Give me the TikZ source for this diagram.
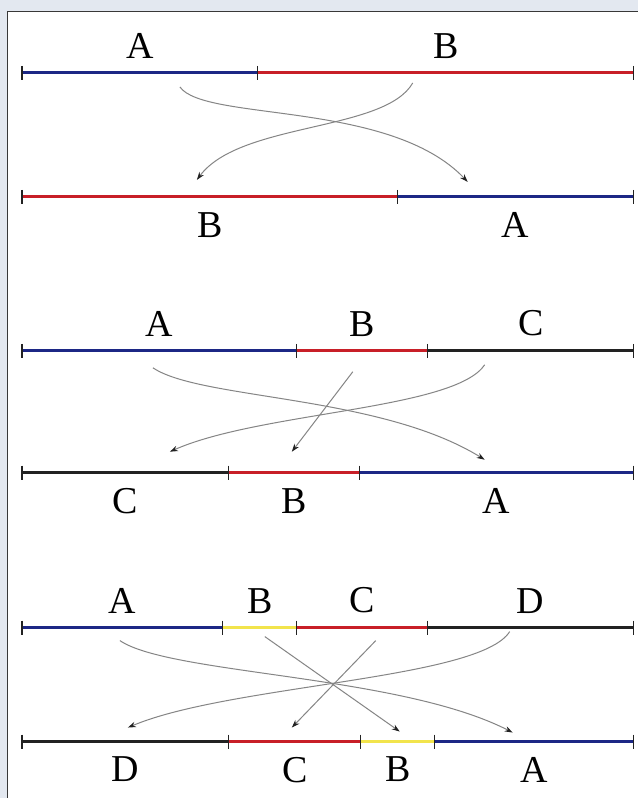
\documentclass[tikz,border=0pt]{standalone}
\usepackage{fontspec}
\setmainfont{Liberation Serif}
\usepackage{xcolor}
\usepackage{tikz}
\usetikzlibrary{arrows.meta}

\definecolor{fondo}{HTML}{E3E8F0}
\definecolor{azul}{HTML}{1C2785}
\definecolor{rojo}{HTML}{C81F28}
\definecolor{amarillo}{HTML}{F2E44C}
\definecolor{negro}{HTML}{222222}
\definecolor{flecha}{HTML}{858585}

\tikzset{
    tramo/.style = {line width=3pt},
    marca/.style = {line width=1.1pt, draw=negro},
    marco/.style = {line width=1pt, draw=negro!90},
    letra/.style = {font=\fontsize{38}{40}\selectfont, inner sep=0pt},
    arriba/.style = {letra, above=13pt},
    abajo/.style = {letra, below=14pt},
    traslado/.style = {draw=flecha, line width=1pt,
        -{Stealth[length=8pt, width=5.5pt, color=negro]}}
}

\begin{document}
\begin{tikzpicture}[x=1pt, y=-1pt]
    % Fondo y marco
    \fill[fondo] (0,0) rectangle (638,798);
    \fill[white] (8,12) rectangle (638,798);
    \draw[marco] (8,798) -- (8,12) -- (638,12);
    \useasboundingbox (0,0) rectangle (638,798);

    % Primer caso: A B -> B A
    \coordinate (p1) at (22,73);
    \coordinate (p2) at (258,73);
    \coordinate (p3) at (634,73);
    \coordinate (q1) at (22,197);
    \coordinate (q2) at (398,197);
    \coordinate (q3) at (634,197);
    \draw[tramo, draw=azul] (p1) -- node[arriba] (pA) {A} (p2);
    \draw[tramo, draw=rojo] (p2) -- node[arriba] (pB) {B} (p3);
    \draw[tramo, draw=rojo] (q1) -- node[abajo] (qB) {B} (q2);
    \draw[tramo, draw=azul] (q2) -- node[abajo] (qA) {A} (q3);
    \foreach \m in {p1,p2,p3,q1,q2,q3}
        \draw[marca] (\m) ++(0,-7) -- ++(0,14);
    \coordinate (pAsale) at (180,87);
    \coordinate (pBsale) at (413,83);
    \coordinate (qAllega) at (468,182);
    \coordinate (qBllega) at (197,180);
    \draw[traslado] (pAsale) .. controls (205,122) and (390,100) .. (qAllega);
    \draw[traslado] (pBsale) .. controls (385,132) and (240,122) .. (qBllega);

    % Segundo caso: A B C -> C B A
    \coordinate (r1) at (22,351);
    \coordinate (r2) at (297,351);
    \coordinate (r3) at (428,351);
    \coordinate (r4) at (634,351);
    \coordinate (s1) at (22,473);
    \coordinate (s2) at (229,473);
    \coordinate (s3) at (360,473);
    \coordinate (s4) at (634,473);
    \draw[tramo, draw=azul] (r1) -- node[arriba] (rA) {A} (r2);
    \draw[tramo, draw=rojo] (r2) -- node[arriba] (rB) {B} (r3);
    \draw[tramo, draw=negro] (r3) -- node[arriba] (rC) {C} (r4);
    \draw[tramo, draw=negro] (s1) -- node[abajo] (sC) {C} (s2);
    \draw[tramo, draw=rojo] (s2) -- node[abajo] (sB) {B} (s3);
    \draw[tramo, draw=azul] (s3) -- node[abajo] (sA) {A} (s4);
    \foreach \m in {r1,r2,r3,r4,s1,s2,s3,s4}
        \draw[marca] (\m) ++(0,-7) -- ++(0,14);
    \coordinate (rAsale) at (153,368);
    \coordinate (rBsale) at (353,372);
    \coordinate (rCsale) at (485,365);
    \coordinate (sAllega) at (485,460);
    \coordinate (sBllega) at (292,452);
    \coordinate (sCllega) at (170,452);
    \draw[traslado] (rAsale) .. controls (200,400) and (380,395) .. (sAllega);
    \draw[traslado] (rBsale) -- (sBllega);
    \draw[traslado] (rCsale) .. controls (455,410) and (260,412) .. (sCllega);

    % Tercer caso: A B C D -> D C B A
    \coordinate (t1) at (22,628);
    \coordinate (t2) at (223,628);
    \coordinate (t3) at (297,628);
    \coordinate (t4) at (428,628);
    \coordinate (t5) at (634,628);
    \coordinate (u1) at (22,742);
    \coordinate (u2) at (229,742);
    \coordinate (u3) at (361,742);
    \coordinate (u4) at (435,742);
    \coordinate (u5) at (634,742);
    \draw[tramo, draw=azul] (t1) -- node[arriba] (tA) {A} (t2);
    \draw[tramo, draw=amarillo] (t2) -- node[arriba] (tB) {B} (t3);
    \draw[tramo, draw=rojo] (t3) -- node[arriba] (tC) {C} (t4);
    \draw[tramo, draw=negro] (t4) -- node[arriba] (tD) {D} (t5);
    \draw[tramo, draw=negro] (u1) -- node[abajo] (uD) {D} (u2);
    \draw[tramo, draw=rojo] (u2) -- node[abajo] (uC) {C} (u3);
    \draw[tramo, draw=amarillo] (u3) -- node[abajo] (uB) {B} (u4);
    \draw[tramo, draw=azul] (u4) -- node[abajo] (uA) {A} (u5);
    \foreach \m in {t1,t2,t3,t4,t5,u1,u2,u3,u4,u5}
        \draw[marca] (\m) ++(0,-7) -- ++(0,14);
    \coordinate (tAsale) at (120,641);
    \coordinate (tBsale) at (265,637);
    \coordinate (tCsale) at (376,641);
    \coordinate (tDsale) at (510,632);
    \coordinate (uAllega) at (513,733);
    \coordinate (uBllega) at (400,732);
    \coordinate (uCllega) at (292,728);
    \coordinate (uDllega) at (128,728);
    \draw[traslado] (tAsale) .. controls (170,675) and (400,675) .. (uAllega);
    \draw[traslado] (tBsale) -- (uBllega);
    \draw[traslado] (tCsale) -- (uCllega);
    \draw[traslado] (tDsale) .. controls (480,680) and (230,685) .. (uDllega);
\end{tikzpicture}
\end{document}
